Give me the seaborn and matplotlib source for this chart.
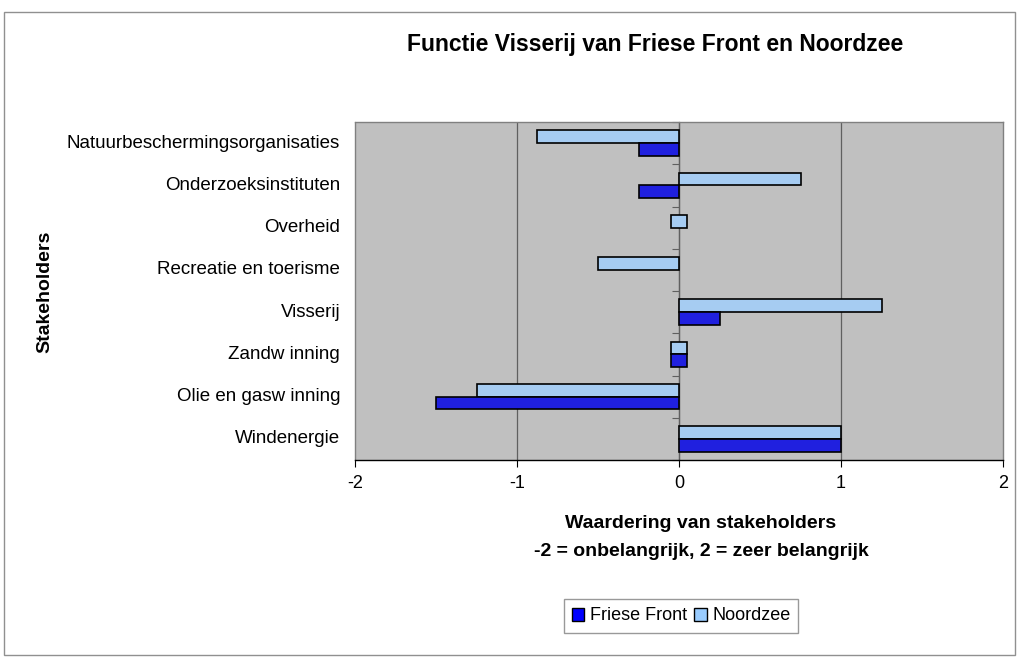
import numpy as np
import pandas as pd
import seaborn as sns
import matplotlib.pyplot as plt
from matplotlib.patches import Patch, Rectangle

# data
stakeholders = ['Natuurbeschermingsorganisaties', 'Onderzoeksinstituten', 'Overheid',
                'Recreatie en toerisme', 'Visserij', 'Zandw inning',
                'Olie en gasw inning', 'Windenergie']
noordzee = [-0.875, 0.75, 0.0, -0.5, 1.25, 0.0, -1.25, 1.0]
friese_front = [-0.25, -0.25, np.nan, np.nan, 0.25, 0.0, -1.5, 1.0]

df = pd.DataFrame({
    'stakeholder': stakeholders * 2,
    'waarde': noordzee + friese_front,
    'gebied': ['Noordzee'] * 8 + ['Friese Front'] * 8,
})

sns.set_style('white')
plt.rcParams['font.family'] = ['Liberation Sans', 'DejaVu Sans']
plt.rcParams['text.color'] = 'black'
plt.rcParams['xtick.color'] = 'black'
plt.rcParams['xtick.labelcolor'] = 'black'

fig = plt.figure(figsize=(10.2, 6.59), dpi=100)
ax = fig.add_axes([355 / 1020, 1 - 460 / 659, (1003 - 355) / 1020, (460 - 122) / 659])
ax.set_facecolor('#C0C0C0')

colors = {'Noordzee': '#99CCFF', 'Friese Front': '#0000FF'}
ax.grid(False)
for v in [-1, 0, 1]:
    ax.axvline(v, color='#606060', lw=0.9, zorder=0)

sns.barplot(data=df, y='stakeholder', x='waarde', hue='gebied',
            hue_order=['Noordzee', 'Friese Front'], palette=colors,
            orient='h', width=0.6, edgecolor='black', linewidth=1.2,
            legend=False, ax=ax, zorder=3)

# Excel shows zero values as a small visible stub
for p in ax.patches:
    if p.get_width() == 0:
        p.set_x(-0.05)
        p.set_width(0.1)

ax.set_xlim(-2, 2)
ax.set_ylim(7.5, -0.5)
ax.set_xticks([-2, -1, 0, 1, 2])
ax.set_xticklabels(['-2', '-1', '0', '1', '2'], fontsize=13)
ax.tick_params(axis='x', direction='out', length=5, width=0.8, color='black', pad=6, bottom=True)
ax.set_yticks(np.arange(-0.5, 8, 1))
ax.set_yticklabels([])
ax.tick_params(axis='y', direction='out', length=5, width=0.8, color='#606060', left=True)
ax.spines['left'].set_position(('data', 0))
ax.spines['left'].set_color('#606060')
ax.spines['left'].set_linewidth(0.9)
for s in ['top', 'right', 'bottom']:
    ax.spines[s].set_color('#808080')
    ax.spines[s].set_linewidth(1.0)
ax.spines['bottom'].set_color('black')
ax.set_xlabel('')
ax.set_ylabel('')

# category labels at the left of the plot area
for i, name in enumerate(stakeholders):
    ax.text(-0.023, i, name, transform=ax.get_yaxis_transform(), ha='right',
            va='center', fontsize=13.5)
# left border of plot area
ax.plot([0, 0], [0, 1], transform=ax.transAxes, color='#808080', lw=1.0, clip_on=False)

fig.text(655 / 1020, 1 - 45 / 659, 'Functie Visserij van Friese Front en Noordzee',
         ha='center', va='center', fontsize=16.5, fontweight='bold')
fig.text(701 / 1020, 1 - 523 / 659, 'Waardering van stakeholders',
         ha='center', va='center', fontsize=14, fontweight='bold')
fig.text(701 / 1020, 1 - 551 / 659, '-2 = onbelangrijk, 2 = zeer belangrijk',
         ha='center', va='center', fontsize=14, fontweight='bold')
fig.text(45 / 1020, 1 - 292 / 659, 'Stakeholders', rotation=90,
         ha='center', va='center', fontsize=14, fontweight='bold')

handles = [Patch(facecolor=colors['Friese Front'], edgecolor='black', label='Friese Front'),
           Patch(facecolor=colors['Noordzee'], edgecolor='black', label='Noordzee')]
leg = fig.legend(handles=handles, loc='center', bbox_to_anchor=(681 / 1020, 1 - 616 / 659),
                 ncol=2, fontsize=13, frameon=True, fancybox=False, handlelength=0.7,
                 handleheight=0.7, handletextpad=0.3, columnspacing=0.4, borderpad=0.45)
leg.get_frame().set_edgecolor('#808080')
leg.get_frame().set_linewidth(1.0)

fig.patches.append(Rectangle((4 / 1020, 1 - 655 / 659), 1011 / 1020, 643 / 659,
                             transform=fig.transFigure, fill=False,
                             edgecolor='#909090', lw=1.0))

fig.savefig('out.png', dpi=100)
